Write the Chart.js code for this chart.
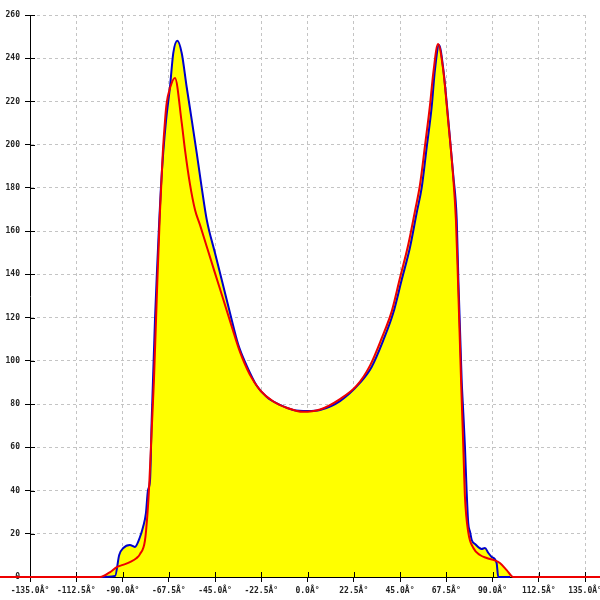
<!DOCTYPE html>
<html>
<head>
<meta charset="utf-8">
<script src="https://cdn.jsdelivr.net/npm/chart.js@4.4.1/dist/chart.umd.min.js"></script>
<style>
  html, body { margin: 0; padding: 0; background: #fff; }
  canvas { display: block; }
</style>
</head>
<body>
<canvas id="plot" width="600" height="600"></canvas>
<script>
// angle (deg) / value pairs
const blueAngles = [-101.9, -93.6, -91.6, -89.6, -86.4, -84.0, -81.5, -80.0, -78.6, -77.6, -76.6, -75.8, -74.2, -73.2,
  -72.1, -71.3, -70.2, -68.8, -66.9, -65.3, -63.3, -61.2, -58.8, -56.3, -53.9, -51.5, -49.0, -45.0, -41.7, -37.7,
  -33.7, -29.6, -24.7, -19.8, -13.4, -6.9, 0, 6.1, 15.8, 25.5, 31.2, 36.9, 41.7, 45.8, 49.9, 53.1, 55.6, 58.0,
  60.4, 62.0, 64.0, 66.1, 68.5, 70.9, 72.6, 73.4, 75.0, 75.8, 76.6, 77.4, 78.2, 79.1, 79.9, 81.5, 84.7, 86.3,
  88.0, 89.6, 92.0, 92.8, 98.5];
const blueValues = [0, 0.5, 10.2, 13.4, 14.8, 13.9, 18.5, 23.1, 29.6, 40.2, 44.9, 72.6, 119, 142,
  165.2, 180.4, 196.2, 211.4, 226.7, 242.4, 248.1, 242.4, 226.8, 211.4, 196.2, 180.4, 165.2, 149.9, 137.4, 122.1,
  107.5, 97.8, 88.5, 83.3, 79.6, 77.3, 76.8, 77.3, 81.4, 89.8, 97.2, 109.6, 122.1, 137.4, 152.7, 168.4, 180.4, 198.9,
  217.4, 234.6, 246.1, 234.6, 211.4, 186, 165.2, 137.4, 91.1, 75.9, 60.1, 40.2, 25.0, 20.8, 17.1, 15.3, 13.0, 13.4,
  11.1, 9.3, 6.5, 0, 0];

const redAngles = [-180, -100.9, -96.0, -92.8, -89.8, -86.4, -83.1, -81.5, -79.1, -77.9, -77.0, -75.8, -74.7, -73.2,
  -71.8, -70.4, -69.3, -68.5, -66.9, -64.5, -61.2, -59.6, -57.2, -54.7, -52.3, -49.0, -45.0, -41.0, -36.9, -32.8,
  -28.0, -23.1, -16.6, -10.1, -2.2, 6.1, 15.8, 23.9, 30.4, 36.1, 41.0, 45.0, 49.0, 52.3, 54.7, 57.2, 59.6, 61.2,
  63.5, 65.9, 68.4, 70.8, 72.2, 73.2, 74.7, 75.8, 76.6, 78.2, 80.7, 83.9, 87.2, 90.4, 93.6, 96.9, 100.1, 180];
const redValues = [0, 0, 2.3, 4.6, 5.6, 6.9, 8.8, 10.6, 16.7, 28.7, 42.6, 68.0, 91.1, 132.8,
  168.4, 196.2, 211.4, 219.3, 226.2, 230.9, 210.2, 197.6, 181.9, 169.8, 162.9, 152.8, 140.6, 128.5, 116.0, 104.0,
  93.5, 86.5, 81.2, 78.3, 76.4, 77.5, 82.3, 88.5, 97.8, 110.5, 123.0, 138.4, 153.7, 169.4, 181.4, 199.9, 218.4, 233.2,
  246.6, 235.5, 211.4, 186, 165.2, 137.4, 91.1, 60.1, 37.0, 20.8, 13.4, 10.2, 8.8, 7.9, 6.5, 3.2, 0, 0];

const xMin = -135, xMax = 135, xStep = 22.5;
const yMin = 0, yMax = 260, yStep = 20;

const toPoints = (xs, ys) => xs.map((x, i) => ({ x: x, y: ys[i] }));

// short tick marks on the inner side of both axes
const innerTicks = {
  id: 'innerTicks',
  beforeDatasetsDraw(chart) {
    const ctx = chart.ctx;
    const area = chart.chartArea;
    const sx = chart.scales.x, sy = chart.scales.y;
    ctx.save();
    ctx.strokeStyle = '#000';
    ctx.lineWidth = 1;
    ctx.beginPath();
    sx.ticks.forEach(t => {
      const px = Math.round(sx.getPixelForValue(t.value)) + 0.5;
      ctx.moveTo(px, area.bottom);
      ctx.lineTo(px, area.bottom - 5);
    });
    sy.ticks.forEach(t => {
      const py = Math.round(sy.getPixelForValue(t.value)) + 0.5;
      ctx.moveTo(area.left, py);
      ctx.lineTo(area.left + 5, py);
    });
    ctx.stroke();
    ctx.restore();
  }
};

const tickFont = { family: 'DejaVu Sans Mono', size: 8, weight: 'bold' };

new Chart(document.getElementById('plot'), {
  type: 'line',
  data: {
    datasets: [
      {
        data: toPoints(redAngles, redValues),
        borderColor: '#ee0000',
        backgroundColor: '#ffff00',
        borderWidth: 2,
        fill: 'origin',
        pointRadius: 0,
        cubicInterpolationMode: 'monotone',
        clip: false
      },
      {
        data: toPoints(blueAngles, blueValues),
        borderColor: '#0000cc',
        backgroundColor: '#ffff00',
        borderWidth: 2,
        fill: 'origin',
        pointRadius: 0,
        cubicInterpolationMode: 'monotone',
        clip: false
      }
    ]
  },
  options: {
    responsive: false,
    animation: false,
    layout: { padding: { top: 15, right: 15, left: 0, bottom: 0 } },
    plugins: {
      legend: { display: false },
      tooltip: { enabled: false },
      filler: { drawTime: 'beforeDatasetsDraw' }
    },
    scales: {
      x: {
        type: 'linear',
        min: xMin, max: xMax,
        ticks: {
          stepSize: xStep,
          color: '#222',
          font: tickFont,
          maxRotation: 0,
          autoSkip: false,
          padding: 4,
          callback: v => Number(v).toFixed(1) + 'Â°'
        },
        grid: { color: '#c4c4c4', tickColor: '#000', tickLength: 5 },
        border: { color: '#000', width: 1, dash: [3, 3] },
        afterFit(scale) { scale.height = 23; scale.paddingLeft = 0; scale.paddingRight = 0; }
      },
      y: {
        min: yMin, max: yMax,
        ticks: { stepSize: yStep, color: '#222', font: tickFont, padding: 5 },
        grid: { color: '#c4c4c4', tickColor: '#000', tickLength: 5 },
        border: { color: '#000', width: 1, dash: [3, 3] },
        afterFit(scale) { scale.width = 30; scale.paddingTop = 0; scale.paddingBottom = 0; }
      }
    }
  },
  plugins: [innerTicks]
});
</script>
</body>
</html>
